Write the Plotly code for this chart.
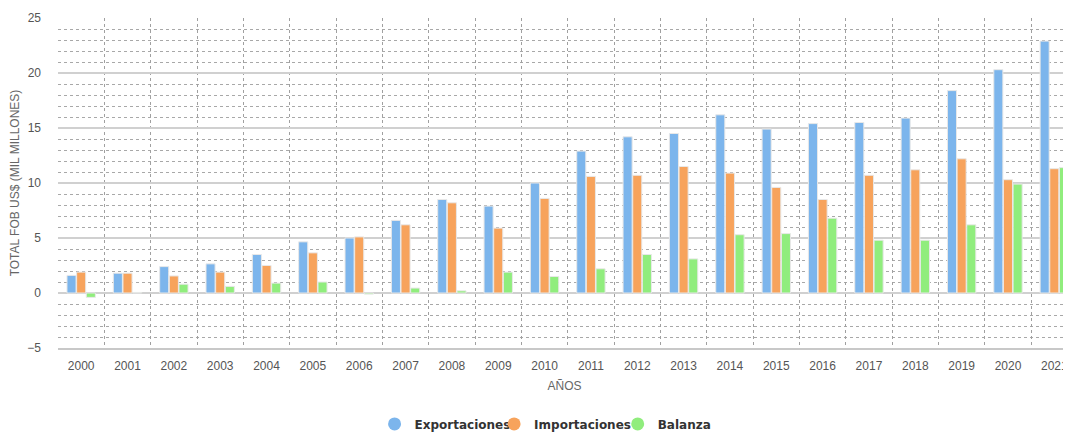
import plotly.graph_objects as go

years = [str(y) for y in range(2000, 2022)]
exportaciones = [1.6, 1.8, 2.4, 2.65, 3.5, 4.65, 5.0, 6.6, 8.5, 7.9, 10.0, 12.9, 14.2, 14.5,
                 16.2, 14.9, 15.4, 15.5, 15.9, 18.4, 20.3, 22.9]
importaciones = [1.9, 1.8, 1.55, 1.9, 2.5, 3.65, 5.1, 6.2, 8.2, 5.9, 8.6, 10.6, 10.7, 11.5,
                 10.9, 9.6, 8.5, 10.7, 11.2, 12.2, 10.3, 11.3]
balanza = [-0.4, 0.05, 0.8, 0.6, 0.9, 1.0, -0.1, 0.45, 0.2, 1.9, 1.5, 2.2, 3.5, 3.1,
           5.3, 5.4, 6.8, 4.8, 4.8, 6.2, 9.9, 11.4]

series = [("Exportaciones", exportaciones, "#7cb5ec", "legend", 0.3125),
          ("Importaciones", importaciones, "#f7a35c", "legend2", 0.4305),
          ("Balanza", balanza, "#90ed7d", "legend3", 0.5525)]

fig = go.Figure()
for name, vals, col, lg, lx in series:
    fig.add_trace(go.Bar(x=years, y=vals, name=name, marker_color=col,
                         marker_line=dict(color="#e8e8e8", width=1), showlegend=False))
for name, vals, col, lg, lx in series:
    fig.add_trace(go.Scatter(x=[None], y=[None], mode="markers", name=name, legend=lg,
                             marker=dict(symbol="circle", size=13, color=col)))

legend_font = dict(family="DejaVu Sans, sans-serif", size=12, color="#333333", weight="bold")
legends = {}
for name, vals, col, lg, lx in series:
    legends[lg] = dict(orientation="h", x=lx, xanchor="left", y=-0.23, yanchor="middle",
                       font=legend_font, itemwidth=30, bgcolor="rgba(0,0,0,0)")

font_family = "Liberation Sans, Arial, sans-serif"
fig.update_layout(
    width=1063, height=424,
    margin=dict(l=50, r=0, t=10, b=84, autoexpand=False),
    paper_bgcolor="white", plot_bgcolor="white",
    barmode="group", bargap=0.375, bargroupgap=0.06,
    font=dict(family=font_family, size=12, color="#666666"),
    xaxis=dict(type="category", range=[-0.5, 21.36], tickson="boundaries", automargin=False,
               showgrid=True, gridcolor="#a0a0a0", gridwidth=1, griddash="dot",
               ticks="", tickfont=dict(size=12, color="#555555"), ticklabelstandoff=6,
               showline=True, linecolor="#c8c8c8", linewidth=2,
               title=dict(text="AÑOS", font=dict(size=12, color="#666666"), standoff=9)),
    yaxis=dict(range=[-5, 25], dtick=5, tick0=0, showgrid=True, gridcolor="#d0d0d0", gridwidth=2,
               zeroline=False, tickfont=dict(size=12, color="#555555"), ticks="", automargin=False,
               ticklabelstandoff=16,
               minor=dict(dtick=1, showgrid=True, gridcolor="#a8a8a8", gridwidth=1, griddash="dot"),
               title=dict(text="TOTAL FOB US$ (MIL MILLONES)", font=dict(size=12, color="#666666"),
                          standoff=10)),
    **legends,
)

fig.write_html("out.html")
